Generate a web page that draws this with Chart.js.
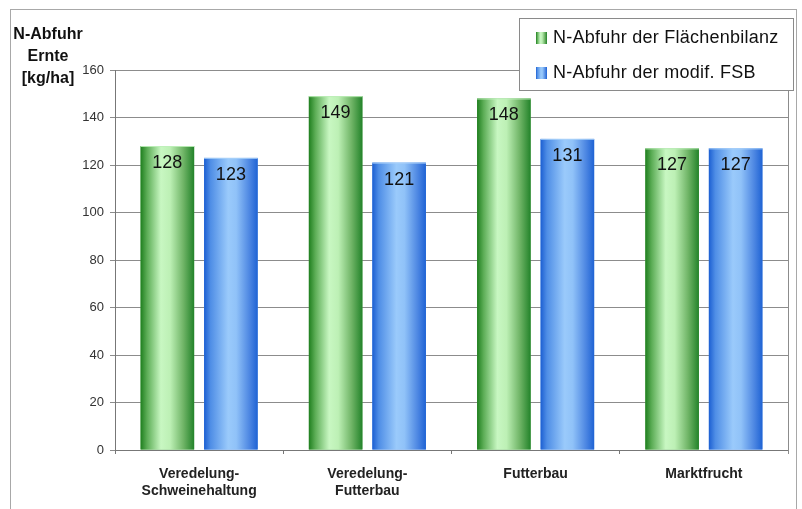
<!DOCTYPE html>
<html>
<head>
<meta charset="utf-8">
<script src="https://cdn.jsdelivr.net/npm/chart.js@4"></script>
<style>
  html, body { margin: 0; padding: 0; background: #fff; }
  #wrap { position: relative; width: 802px; height: 509px; }
</style>
</head>
<body>
<div id="wrap"><canvas id="c" width="802" height="509"></canvas></div>
<script>
// Betriebstypen und N-Abfuhr über die Ernte [kg/ha]
const categories = [
  ['Veredelung-', 'Schweinehaltung'],
  ['Veredelung-', 'Futterbau'],
  'Futterbau',
  'Marktfrucht'
];
const seriesNames = ['N-Abfuhr der Flächenbilanz', 'N-Abfuhr der modif. FSB'];
const flaechenbilanz = [128, 149, 148, 127];
const modifFSB = [123, 121, 131, 127];
const yTicks = [0, 20, 40, 60, 80, 100, 120, 140, 160];
const yTitle = ['N-Abfuhr', 'Ernte', '[kg/ha]'];

// Zylinder-Farbverläufe (links -> rechts)
const palettes = [
  [[0, '#1f7f1f'], [0.12, '#5cad56'], [0.38, '#c8f7c2'], [0.55, '#bdf0b5'], [0.8, '#6fb466'], [1, '#23832a']],
  [[0, '#1c5fd2'], [0.12, '#4f8ee6'], [0.45, '#9acafb'], [0.6, '#90c2f8'], [0.85, '#4c86e2'], [1, '#1f63d4']]
];
const baseColors = ['#5cad56', '#4f8ee6'];

function gradientFor(ctx, x0, x1, stops) {
  const g = ctx.createLinearGradient(x0, 0, x1, 0);
  stops.forEach(s => g.addColorStop(s[0], s[1]));
  return g;
}

const decorations = {
  id: 'decorations',
  beforeDraw(chart) {
    const ctx = chart.ctx;
    ctx.save();
    ctx.fillStyle = '#fff';
    ctx.fillRect(0, 0, chart.width, chart.height);
    ctx.strokeStyle = '#a8a8a8';
    ctx.lineWidth = 1;
    ctx.strokeRect(10.5, 9.5, 786, 520);
    ctx.restore();
  },
  afterDatasetsDraw(chart) {
    const ctx = chart.ctx;
    ctx.save();
    chart.data.datasets.forEach((ds, di) => {
      const meta = chart.getDatasetMeta(di);
      meta.data.forEach((el, i) => {
        const p = el.getProps(['x', 'y', 'base', 'width'], true);
        const x0 = p.x - p.width / 2, x1 = p.x + p.width / 2;
        ctx.fillStyle = gradientFor(ctx, x0, x1, palettes[di]);
        ctx.fillRect(x0, p.y, p.width, p.base - p.y);
        // helle Oberkante
        ctx.fillStyle = di === 0 ? 'rgba(190,240,185,0.9)' : 'rgba(170,210,250,0.9)';
        ctx.fillRect(x0, p.y, p.width, 1);
        // Wertbeschriftung
        ctx.fillStyle = '#111';
        ctx.font = '18px "Liberation Sans", Arial, sans-serif';
        ctx.textAlign = 'center';
        ctx.textBaseline = 'middle';
        ctx.fillText(String(ds.data[i]), p.x, p.y + 17);
      });
    });
    ctx.restore();
  },
  afterDraw(chart) {
    const ctx = chart.ctx;
    const area = chart.chartArea;
    ctx.save();
    // rechte Begrenzung der Zeichenfläche
    ctx.strokeStyle = '#8c8c8c';
    ctx.lineWidth = 1;
    ctx.beginPath();
    ctx.moveTo(Math.round(area.right) + 0.5, area.top);
    ctx.lineTo(Math.round(area.right) + 0.5, area.bottom + 4);
    ctx.stroke();

    // Achsentitel
    ctx.fillStyle = '#111';
    ctx.font = 'bold 16px "Liberation Sans", Arial, sans-serif';
    ctx.textAlign = 'center';
    ctx.textBaseline = 'middle';
    yTitle.forEach((t, i) => ctx.fillText(t, 48, 35 + i * 22));

    // Legende
    ctx.fillStyle = '#fff';
    ctx.fillRect(519.5, 18.5, 274, 72);
    ctx.strokeStyle = '#8a8a8a';
    ctx.strokeRect(519.5, 18.5, 274, 72);
    const rows = [38, 73];
    seriesNames.forEach((name, i) => {
      const y = rows[i];
      ctx.fillStyle = gradientFor(ctx, 536, 547, palettes[i]);
      ctx.fillRect(536, y - 6, 11, 12);
      ctx.fillStyle = '#111';
      ctx.font = '18px "Liberation Sans", Arial, sans-serif';
      ctx.textAlign = 'left';
      ctx.textBaseline = 'middle';
      ctx.letterSpacing = '0.25px';
      ctx.fillText(name, 553, y);
      ctx.letterSpacing = '0px';
    });
    ctx.restore();
  }
};

new Chart(document.getElementById('c'), {
  type: 'bar',
  data: {
    labels: categories,
    datasets: [
      { label: seriesNames[0], data: flaechenbilanz, backgroundColor: baseColors[0], borderWidth: 0 },
      { label: seriesNames[1], data: modifFSB, backgroundColor: baseColors[1], borderWidth: 0 }
    ]
  },
  options: {
    responsive: false,
    animation: false,
    events: [],
    categoryPercentage: 0.755,
    barPercentage: 0.843,
    layout: { padding: { left: 0, top: 70, right: 14, bottom: 0 } },
    plugins: { legend: { display: false }, tooltip: { enabled: false }, title: { display: false } },
    scales: {
      x: {
        grid: { offset: true, drawOnChartArea: false, color: '#777', tickLength: 4 },
        border: { color: '#777' },
        ticks: {
          color: '#222',
          padding: 11,
          font: { family: '"Liberation Sans", Arial, sans-serif', size: 14, weight: 'bold', lineHeight: 1.25 },
          maxRotation: 0
        },
        afterFit(scale) { scale.height = 59; }
      },
      y: {
        min: 0,
        max: 160,
        afterBuildTicks(scale) { scale.ticks = yTicks.map(v => ({ value: v })); },
        grid: { color: '#8c8c8c', tickLength: 5 },
        border: { color: '#777' },
        ticks: {
          color: '#333',
          padding: 6,
          font: { family: '"Liberation Sans", Arial, sans-serif', size: 13 }
        },
        afterFit(scale) { scale.width = 115; }
      }
    }
  },
  plugins: [decorations]
});
</script>
</body>
</html>
